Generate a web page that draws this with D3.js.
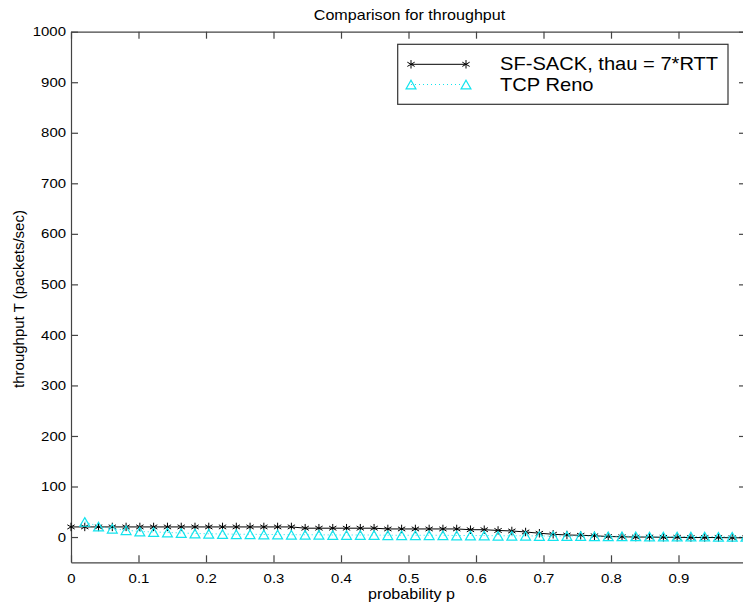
<!DOCTYPE html>
<html>
<head>
<meta charset="utf-8">
<script src="https://d3js.org/d3.v7.min.js"></script>
<style>
    body { margin: 0; background: #fff; }
    svg { display: block; font-family: "Liberation Sans", Arial, Helvetica, sans-serif; }
    .axis path, .axis line { stroke: #444; stroke-width: 1.2; }
    .axis text { fill: #000; font-size: 13px; }
</style>
</head>
<body>
<div class="layout"></div>
<script>
    // probability p (50 samples from 0 to 1)
    var probability = [0, 0.0204, 0.0408, 0.0612, 0.0816, 0.1020, 0.1224, 0.1429, 0.1633, 0.1837,
        0.2041, 0.2245, 0.2449, 0.2653, 0.2857, 0.3061, 0.3265, 0.3469, 0.3673, 0.3878,
        0.4082, 0.4286, 0.4490, 0.4694, 0.4898, 0.5102, 0.5306, 0.5510, 0.5714, 0.5918,
        0.6122, 0.6327, 0.6531, 0.6735, 0.6939, 0.7143, 0.7347, 0.7551, 0.7755, 0.7959,
        0.8163, 0.8367, 0.8571, 0.8776, 0.8980, 0.9184, 0.9388, 0.9592, 0.9796, 1.0000];

    var sfSack = [20, 20, 20, 20, 20, 20, 20, 20, 20, 20,
        20, 20, 20, 20, 20, 20, 20, 17.5, 17.5, 17.5,
        17.5, 17.5, 17.5, 16, 16, 16, 16, 16, 16, 14.5,
        14.5, 13, 12, 10, 7.5, 5.5, 4, 3.5, 2.5, 1,
        0.5, 0, 0, -0.5, -0.5, -1, -1, -1, -1.5, -1.5];

    // no value for reno at p = 0
    var tcpReno = [null, 30, 21, 16.5, 13.5, 11, 10, 9, 8, 7,
        6.5, 6, 5.5, 5.5, 5, 5, 4.5, 4.5, 4.5, 4,
        4, 4, 4, 3.5, 3.5, 3.5, 3.5, 3.5, 3, 3,
        3, 2.5, 2.5, 2.5, 2, 2, 2, 2, 1.5, 1.5,
        1.5, 1.5, 1, 1, 1, 1, 1, 0.5, 0.5, 0.5];

    var xTicks = [0, 0.1, 0.2, 0.3, 0.4, 0.5, 0.6, 0.7, 0.8, 0.9];
    var yTicks = [0, 100, 200, 300, 400, 500, 600, 700, 800, 900, 1000];
    var seriesNames = ["SF-SACK, thau = 7*RTT", "TCP Reno"];

    var width = 743, height = 609;
    var margin = {top: 31.7, right: -3, bottom: 46.7, left: 71};
    var plotW = width - margin.left - margin.right,
        plotH = height - margin.top - margin.bottom;
    var stretch = 1.15;   // the original text is a bit wide

    var x = d3.scaleLinear().domain([0, 1]).range([0, plotW]);
    var y = d3.scaleLinear().domain([-50, 1000]).range([plotH, 0]);

    var svg = d3.select(".layout").append("svg")
            .attr("width", width)
            .attr("height", height);

    var g = svg.append("g")
            .attr("transform", "translate(" + margin.left + "," + margin.top + ")");

    function wideText(sel, px, py, size, anchor, txt) {
        return sel.append("text")
            .attr("transform", "translate(" + px + "," + py + ") scale(" + stretch + ",1)")
            .attr("text-anchor", anchor)
            .style("font-size", size + "px")
            .text(txt);
    }

    // axes, ticks point inwards like matlab
    g.append("g")
            .attr("class", "x axis")
            .attr("transform", "translate(0," + plotH + ")")
            .call(d3.axisBottom(x).tickValues(xTicks).tickFormat(d3.format("")).tickSizeInner(-7).tickSizeOuter(0).tickPadding(11))
        .selectAll("text")
            .attr("transform", function() { return "translate(0," + d3.select(this).attr("y") + ") scale(" + stretch + ",1)"; })
            .attr("y", 0);

    g.append("g")
            .attr("class", "x axis top")
            .call(d3.axisTop(x).tickValues(xTicks).tickFormat("").tickSizeInner(-7).tickSizeOuter(0));

    g.append("g")
            .attr("class", "y axis")
            .call(d3.axisLeft(y).tickValues(yTicks).tickFormat(d3.format("")).tickSizeInner(-7).tickSizeOuter(0).tickPadding(5))
        .selectAll("text")
            .attr("x", 0)
            .attr("transform", "translate(-5,0) scale(" + stretch + ",1)");

    g.append("g")
            .attr("class", "y axis right")
            .attr("transform", "translate(" + plotW + ",0)")
            .call(d3.axisRight(y).tickValues(yTicks).tickFormat("").tickSizeInner(-7).tickSizeOuter(0));

    // series
    var sackLine = d3.line()
            .x(function(d, i) { return x(probability[i]); })
            .y(function(d) { return y(d); });
    var renoLine = d3.line()
            .defined(function(d) { return d !== null; })
            .x(function(d, i) { return x(probability[i]); })
            .y(function(d) { return y(d); });

    var star = d3.symbol().type(d3.symbolAsterisk).size(50);
    var tri = d3.symbol().type(d3.symbolTriangle2).size(70);
    var cyan = "#12e4ee";

    g.append("path")
            .datum(sfSack)
            .attr("d", sackLine)
            .attr("fill", "none")
            .attr("stroke", "#000")
            .attr("stroke-width", 1);

    g.selectAll("path.star")
            .data(sfSack)
        .enter().append("path")
            .attr("class", "star")
            .attr("d", star)
            .attr("transform", function(d, i) { return "translate(" + x(probability[i]) + "," + y(d) + ")"; })
            .attr("fill", "none")
            .attr("stroke", "#000")
            .attr("stroke-width", 1);

    g.append("path")
            .datum(tcpReno)
            .attr("d", renoLine)
            .attr("fill", "none")
            .attr("stroke", cyan)
            .attr("stroke-width", 1)
            .attr("stroke-dasharray", "1,3");

    g.selectAll("path.tri")
            .data(tcpReno.map(function(d, i) { return {p: probability[i], v: d}; }).filter(function(d) { return d.v !== null; }))
        .enter().append("path")
            .attr("class", "tri")
            .attr("d", tri)
            .attr("transform", function(d) { return "translate(" + x(d.p) + "," + (y(d.v) + 1.5) + ")"; })
            .attr("fill", "none")
            .attr("stroke", cyan)
            .attr("stroke-width", 1.2);

    // legend
    var legend = svg.append("g").attr("class", "legend");
    legend.append("rect")
            .attr("x", 397.7).attr("y", 44.3)
            .attr("width", 330.3).attr("height", 60)
            .attr("fill", "#fff")
            .attr("stroke", "#333")
            .attr("stroke-width", 1.2);

    var legendRows = [
        {name: seriesNames[0], color: "#000", dash: null, sym: star, ly: 64.3, ty: 70},
        {name: seriesNames[1], color: cyan, dash: "1,3", sym: tri, ly: 84.5, ty: 90.5}
    ];
    legendRows.forEach(function(r) {
        legend.append("line")
                .attr("x1", 411).attr("x2", 466)
                .attr("y1", r.ly).attr("y2", r.ly)
                .attr("stroke", r.color)
                .attr("stroke-dasharray", r.dash);
        [411, 466].forEach(function(px) {
            legend.append("path")
                    .attr("d", r.sym)
                    .attr("transform", "translate(" + px + "," + (r.sym === tri ? r.ly + 1.5 : r.ly) + ")")
                    .attr("fill", "none")
                    .attr("stroke", r.color)
                    .attr("stroke-width", r.sym === tri ? 1.2 : 1);
        });
        wideText(legend, 500, r.ty, 17.5, "start", r.name);
    });

    // titles
    wideText(svg, 409.5, 20, 14, "middle", "Comparison for throughput");
    wideText(svg, 411.5, 599, 14, "middle", "probability p");
    svg.append("text")
            .attr("transform", "translate(24,299) rotate(-90)")
            .attr("text-anchor", "middle")
            .style("font-size", "15px")
            .text("throughput T (packets/sec)");
</script>
</body>
</html>
